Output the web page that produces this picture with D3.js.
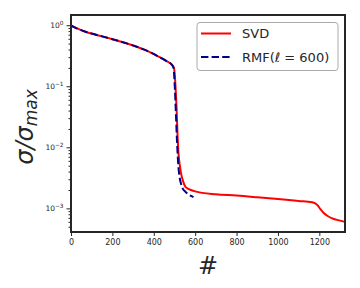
<!DOCTYPE html>
<html>
<head>
<meta charset="utf-8">
<script src="https://cdn.jsdelivr.net/npm/d3@7"></script>
<style>
body { margin: 0; background: #fff; }
text { font-family: "DejaVu Sans", sans-serif; }
</style>
</head>
<body>
<svg id="chart"></svg>
<script>
// data
var svdX = [0, 10, 35, 70, 120, 200, 280, 360, 420, 460, 490, 498, 505, 510, 515, 520, 526, 532, 540, 551, 565, 580, 600, 700, 800, 900, 1000, 1100, 1165, 1180, 1192, 1205, 1220, 1240, 1270, 1300, 1324];
var svdY = [1.0, 0.95, 0.87, 0.78, 0.70, 0.59, 0.49, 0.39, 0.31, 0.26, 0.22, 0.197, 0.1, 0.045, 0.015, 0.0075, 0.005, 0.0037, 0.0029, 0.0023, 0.0021, 0.002, 0.0019, 0.0017, 0.00162, 0.00152, 0.00142, 0.00132, 0.00126, 0.00121, 0.00112, 0.00097, 0.00085, 0.00075, 0.00067, 0.00063, 0.0006];

var rmfX = [0, 10, 35, 70, 120, 200, 280, 360, 420, 460, 490, 496, 502, 507, 512, 519, 525, 532, 540, 551, 565, 580, 592];
var rmfY = [1.0, 0.95, 0.87, 0.78, 0.70, 0.59, 0.49, 0.39, 0.31, 0.26, 0.22, 0.195, 0.09, 0.035, 0.013, 0.0048, 0.0032, 0.0025, 0.0021, 0.0019, 0.00172, 0.0016, 0.00153];

var xTicks = [0, 200, 400, 600, 800, 1000, 1200];
var yTicks = [1e-3, 1e-2, 1e-1, 1];
var yExp = ['\u22123', '\u22122', '\u22121', '0'];

var width = 360, height = 288;
var mLeft = 71, mTop = 15, mRight = 345, mBottom = 232;
var ink = '#262626';

var svg = d3.select('#chart')
    .attr('width', width)
    .attr('height', height);

var xScale = d3.scaleLinear()
    .domain([0, 1324])
    .range([mLeft, mRight]);

var yScale = d3.scaleLog()
    .domain([4.1e-4, 1.47])
    .range([mBottom, mTop]);

// minor ticks on the log axis
var minor = yScale.ticks().filter(function (d) {
    return yTicks.indexOf(d) < 0;
});

var yMinor = d3.axisLeft(yScale).tickValues(minor).tickSize(2.5).tickFormat('');
var gMinor = svg.append('g')
    .attr('transform', `translate(${mLeft},0)`)
    .call(yMinor);

var yAxis = d3.axisLeft(yScale).tickValues(yTicks).tickSize(4.5).tickPadding(3);
var gy = svg.append('g')
    .attr('transform', `translate(${mLeft},0)`)
    .call(yAxis);

gy.selectAll('.tick text').each(function (d, i) {
    var t = d3.select(this);
    t.text(null);
    t.append('tspan').text('10');
    t.append('tspan').attr('dy', -3.5).attr('font-size', 5.8).text(yExp[i]);
});

var xAxis = d3.axisBottom(xScale).tickValues(xTicks).tickSize(4).tickPadding(3)
    .tickFormat(d3.format('d'));
var gx = svg.append('g')
    .attr('transform', `translate(0,${mBottom})`)
    .call(xAxis);

[gMinor, gy, gx].forEach(function (g) {
    g.select('.domain').remove();
    g.selectAll('line').attr('stroke', ink).attr('stroke-width', 1);
    g.selectAll('text').attr('fill', ink)
        .attr('font-family', '"DejaVu Sans", sans-serif');
});
gy.selectAll('.tick text').attr('font-size', 7.5);
gx.selectAll('text').attr('font-size', 8);

var line = d3.line()
    .x(function (d) { return xScale(d[0]); })
    .y(function (d) { return yScale(d[1]); })
    .curve(d3.curveMonotoneX);

svg.append('path')
    .datum(d3.zip(svdX, svdY))
    .attr('d', line)
    .attr('fill', 'none')
    .attr('stroke', '#ff0000')
    .attr('stroke-width', 2);

svg.append('path')
    .datum(d3.zip(rmfX, rmfY))
    .attr('d', line)
    .attr('fill', 'none')
    .attr('stroke', '#00008b')
    .attr('stroke-width', 2)
    .attr('stroke-dasharray', '7.4,3.2');

// frame
svg.append('rect')
    .attr('x', mLeft)
    .attr('y', mTop)
    .attr('width', mRight - mLeft)
    .attr('height', mBottom - mTop)
    .attr('fill', 'none')
    .attr('stroke', ink)
    .attr('stroke-width', 2);

// legend
var legend = svg.append('g');
legend.append('rect')
    .attr('x', 197).attr('y', 22.5)
    .attr('width', 141).attr('height', 48)
    .attr('rx', 3)
    .attr('fill', '#fff')
    .attr('stroke', '#aaaaaa')
    .attr('stroke-width', 1);

legend.append('line')
    .attr('x1', 201).attr('x2', 231).attr('y1', 33.5).attr('y2', 33.5)
    .attr('stroke', '#ff0000').attr('stroke-width', 2);
legend.append('line')
    .attr('x1', 201).attr('x2', 231).attr('y1', 57).attr('y2', 57)
    .attr('stroke', '#00008b').attr('stroke-width', 2)
    .attr('stroke-dasharray', '7.4,3.2');

legend.append('text')
    .attr('x', 242).attr('y', 38)
    .attr('font-size', 13).attr('fill', ink)
    .text('SVD');

var rmfLabel = legend.append('text')
    .attr('x', 242).attr('y', 61.5)
    .attr('font-size', 13).attr('fill', ink);
rmfLabel.append('tspan').text('RMF(');
rmfLabel.append('tspan').attr('font-style', 'italic').text('\u2113');
rmfLabel.append('tspan').text(' = 600)');

// axis labels
svg.append('text')
    .attr('x', (mLeft + mRight) / 2)
    .attr('y', 274)
    .attr('text-anchor', 'middle')
    .attr('font-size', 24)
    .attr('fill', ink)
    .text('#');

var yLabel = svg.append('text')
    .attr('transform', 'translate(33,127) rotate(-90)')
    .attr('text-anchor', 'middle')
    .attr('font-size', 24)
    .attr('font-style', 'italic')
    .attr('fill', ink);
yLabel.append('tspan').text('\u03c3/\u03c3');
yLabel.append('tspan').attr('font-size', 17).attr('dy', 4).text('max');
</script>
</body>
</html>
